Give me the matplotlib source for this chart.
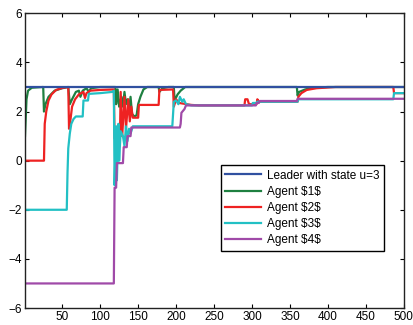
import matplotlib
matplotlib.use("Agg")
import matplotlib.pyplot as plt

# -------------------------------
# Data: (time, state) vertices
# -------------------------------
leader_t = [1, 500]
leader_y = [3, 3]

agent1_t = [1, 3, 5, 10, 25, 26, 28, 32, 40, 50, 58, 60, 63, 68, 72, 74, 77, 82, 85, 88, 100,
            120, 121, 123, 125, 128, 130, 132, 134, 136, 138, 140, 142, 145, 148, 150, 153, 157,
            162, 177, 178, 182, 190, 197, 198, 202, 206, 212, 359, 360, 362, 370, 380, 400, 500]
agent1_y = [1.0, 2.5, 2.85, 2.97, 3.0, 2.0, 2.3, 2.6, 2.85, 2.95, 3.0, 2.3, 2.5, 2.8, 2.85, 2.6,
            2.85, 2.95, 2.8, 2.95, 3.0, 3.0, 2.3, 2.9, 2.2, 2.6, 2.2, 2.8, 2.3, 2.5, 2.0, 2.6, 1.9,
            1.8, 1.85, 2.3, 2.6, 2.9, 3.0, 3.0, 2.8, 2.95, 3.0, 3.0, 2.45, 2.7, 2.85, 3.0, 3.0, 2.65,
            2.8, 2.9, 2.97, 3.0, 3.0]

agent2_t = [1, 26, 27, 29, 32, 36, 42, 50, 58, 59, 61, 63, 67, 72, 78, 80, 82, 87, 100, 118,
            119, 126, 127, 129, 132, 134, 137, 139, 141, 143, 150, 151, 177, 178, 196, 197, 200,
            204, 210, 220, 230, 290, 291, 294, 296, 306, 307, 309, 360, 361, 365, 372, 385, 410,
            486, 487, 500]
agent2_y = [0, 0, 1.5, 2.0, 2.45, 2.7, 2.88, 2.96, 3.0, 1.3, 1.7, 2.2, 2.5, 2.7, 2.8, 2.55, 2.75,
            2.85, 2.88, 2.9, 0.9, 0.9, 2.8, 1.0, 2.6, 1.3, 2.5, 1.6, 2.2, 1.75, 1.75, 2.27, 2.27,
            2.88, 2.9, 2.2, 2.5, 2.35, 2.32, 2.27, 2.25, 2.25, 2.5, 2.5, 2.3, 2.3, 2.5, 2.4, 2.4,
            2.6, 2.75, 2.88, 2.95, 3.0, 3.0, 2.75, 2.75]

agent3_t = [1, 56, 57, 58, 60, 62, 65, 68, 77, 78, 84, 85, 100, 116, 118, 119, 121, 122, 124, 125,
            127, 130, 132, 134, 136, 138, 140, 143, 195, 197, 200, 203, 205, 208, 210, 213, 220,
            300, 301, 306, 307, 310, 360, 361, 486, 487, 500]
agent3_y = [-2, -2, -0.5, 0.5, 1.1, 1.5, 1.7, 1.8, 1.8, 2.45, 2.45, 2.72, 2.75, 2.8, 2.85, -1.0,
            1.4, -0.8, 1.5, 0.0, 1.2, 1.0, 0.6, 1.4, 0.8, 1.3, 1.1, 1.4, 1.4, 2.4, 2.45, 2.3, 2.6,
            2.4, 2.5, 2.3, 2.25, 2.25, 2.35, 2.35, 2.4, 2.4, 2.4, 2.5, 2.5, 2.75, 2.75]

agent4_t = [1, 118, 119, 121, 122, 130, 131, 135, 136, 140, 141, 205, 206, 207, 211, 213, 305, 306,
            309, 310, 359, 360, 500]
agent4_y = [-5, -5, -1.1, -1.1, -0.1, -0.1, 0.55, 0.55, 1.0, 1.0, 1.35, 1.35, 1.5, 1.95, 2.1, 2.25,
            2.25, 2.35, 2.35, 2.43, 2.43, 2.52, 2.52]

plt.rcParams['font.family'] = ['Liberation Sans', 'DejaVu Sans']

# -------------------------------
# Plot
# -------------------------------
fig = plt.figure(figsize=(4.13, 3.25), dpi=100)
ax = fig.add_axes([0.0605, 0.0523, 0.9175, 0.9067])

lw = 1.6
h1, = ax.plot(agent1_t, agent1_y, color='#1e8040', lw=lw)
h2, = ax.plot(agent2_t, agent2_y, color='#ee2222', lw=lw)
h3, = ax.plot(agent3_t, agent3_y, color='#22c0c4', lw=lw)
h4, = ax.plot(agent4_t, agent4_y, color='#a04aa8', lw=lw)
h0, = ax.plot(leader_t, leader_y, color='#3050a0', lw=lw, label='Leader with state u=3')

# keep the literal "$1$" text like the original
for h, n in zip([h1, h2, h3, h4], range(1, 5)):
    h.set_label('Agent \\$%d\\$' % n)

ax.set_xlim(1, 500)
ax.set_ylim(-6, 6)
ax.set_xticks(range(50, 501, 50))
ax.set_yticks(range(-6, 7, 2))
ax.tick_params(direction='in', top=True, right=True, labelsize=8.5, length=3, pad=2)
for s in ax.spines.values():
    s.set_linewidth(1.0)
    s.set_color('#222222')

leg = ax.legend(handles=[h0, h1, h2, h3, h4], loc='lower right',
                bbox_to_anchor=(0.947, 0.194), fontsize=8.5, fancybox=False,
                framealpha=1, edgecolor='black', handlelength=3.0,
                borderaxespad=0, labelspacing=0.35, borderpad=0.4, handletextpad=0.5)
leg.get_frame().set_linewidth(1.0)

plt.savefig("out.png", dpi=100)
